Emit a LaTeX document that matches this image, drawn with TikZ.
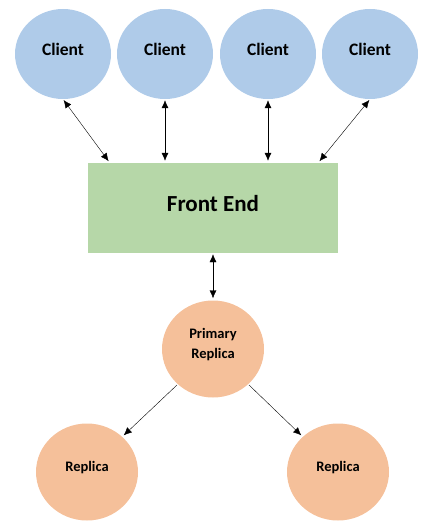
\documentclass[tikz,border=0pt]{standalone}
\usepackage{fontspec}
\setmainfont{Carlito}
\usetikzlibrary{shapes.geometric,arrows.meta,calc}

\definecolor{clientblue}{HTML}{AFCBE9}
\definecolor{frontgreen}{HTML}{B6D7A8}
\definecolor{replicaorange}{HTML}{F5C09A}

\begin{document}
\begin{tikzpicture}[x=1pt,y=-1pt,
    client/.style={ellipse,fill=clientblue,minimum width=96pt,minimum height=90pt,
      inner sep=0pt,font=\fontsize{17.5}{20}\bfseries,text depth=10pt},
    frontend/.style={rectangle,fill=frontgreen,minimum width=250pt,minimum height=90pt,
      font=\fontsize{23}{26}\bfseries,text depth=10pt},
    replica/.style={ellipse,fill=replicaorange,minimum width=102pt,minimum height=97pt,
      inner sep=0pt,align=center,font=\fontsize{14.5}{20}\bfseries,text depth=12pt},
    link/.style={thin,shorten >=2pt,shorten <=1pt},
    both/.style={link,{Latex[length=8pt,width=7pt]}-{Latex[length=8pt,width=7pt]}},
    one/.style={link,-{Latex[length=8pt,width=7pt]}}]
      \useasboundingbox (0,0) rectangle (426,524);
      \node[client] (client1) at (63,54) {Client};
      \node[client] (client2) at (165,54) {Client};
      \node[client] (client3) at (268,54) {Client};
      \node[client] (client4) at (370,54) {Client};
      \node[frontend] (frontend) at (213,208) {Front End};
      \node[replica] (primary) at (213,349) {Primary\\Replica};
      \node[replica] (replica1) at (87,472) {Replica};
      \node[replica] (replica2) at (338,472) {Replica};

      \draw[both] (client1.south) -- ($(frontend.north west)+(22,0)$);
      \draw[both] (client2.south) -- (client2.south |- frontend.north);
      \draw[both] (client3.south) -- (client3.south |- frontend.north);
      \draw[both] (client4.south) -- ($(frontend.north east)+(-20,0)$);
      \draw[both] (frontend.south) -- (primary.north);
      \draw[one] (primary.225) -- (replica1.45);
      \draw[one] (primary.-45) -- (replica2.135);
    \end{tikzpicture}
\end{document}
